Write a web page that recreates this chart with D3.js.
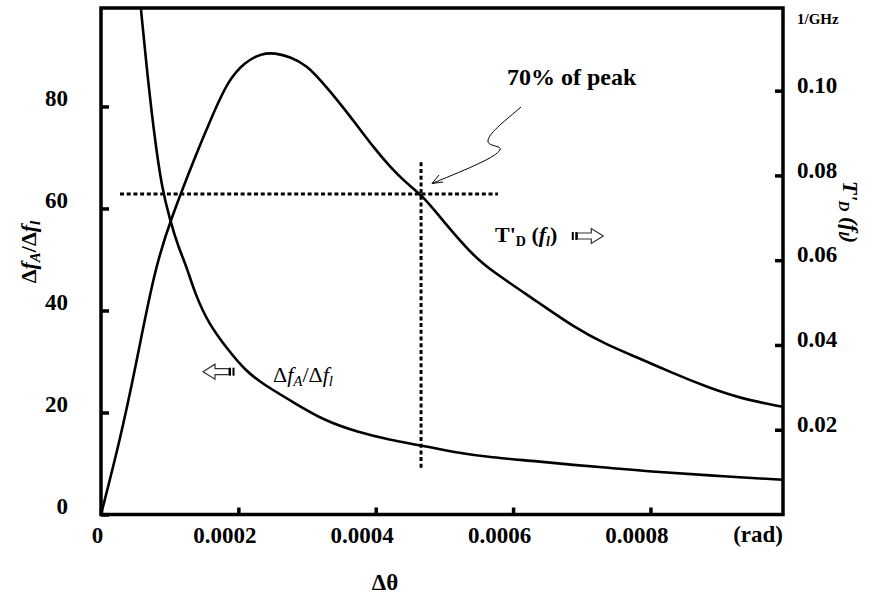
<!DOCTYPE html>
<html>
<head>
<meta charset="utf-8">
<script src="https://cdn.jsdelivr.net/npm/d3@7"></script>
<style>
  body { margin: 0; background: #fff; }
  svg text { font-family: "Liberation Serif", "Times New Roman", Times, serif; }
</style>
</head>
<body>
<script>
// Angle mismatch (rad) and the two curves
const thetaT = [0, 0.0000277, 0.0000495, 0.0000786, 0.0001029, 0.0001369, 0.0001612, 0.0001853,
  0.0002097, 0.000234, 0.0002533, 0.0002752, 0.0002995, 0.0003237, 0.000348, 0.0003723,
  0.0003965, 0.0004208, 0.0004451, 0.0004669, 0.0004936, 0.0005179, 0.0005421, 0.0005664,
  0.0006392, 0.0006877, 0.0007363, 0.0007848, 0.0008333, 0.0008819, 0.0009304, 0.0009926];
const tdValues = [0, 0.0176, 0.0341, 0.0584, 0.0702, 0.0844, 0.0938, 0.1025,
  0.1068, 0.1088, 0.1089, 0.108, 0.106, 0.1017, 0.097, 0.0919,
  0.0867, 0.082, 0.0781, 0.0754, 0.0702, 0.0655, 0.0612, 0.0577,
  0.0498, 0.0443, 0.04, 0.0368, 0.0333, 0.0301, 0.0274, 0.0254];

const thetaF = [0.0000565, 0.0000582, 0.0000689, 0.0000786, 0.0000884, 0.0001005, 0.0001125, 0.0001248,
  0.0001369, 0.0001562, 0.0001853, 0.0002097, 0.000234, 0.0002825, 0.0003237, 0.0003723,
  0.0004208, 0.0004645, 0.0005179, 0.0005664, 0.0006392, 0.0006877, 0.0007363, 0.0007993,
  0.0008819, 0.0009926];
const ratioValues = [102, 98.8, 84.5, 73.4, 64.2, 57.7, 52.5, 48.5,
  43.3, 37.5, 32.2, 28.3, 25.7, 21.8, 18.5, 16.2,
  14.6, 13.6, 12.1, 11.2, 10.4, 9.7, 9.2, 8.4,
  7.7, 6.8];

const xTicks = [0, 0.0002, 0.0004, 0.0006, 0.0008];
const leftTicks = [0, 20, 40, 60, 80];
const rightTicks = [0.02, 0.04, 0.06, 0.08, 0.10];

// 70% of peak guide lines
const guideT = 0.0756;            // right-axis level
const guideThetaRange = [0.0000277, 0.000578];
const guideTheta = 0.000466;
const guideTRange = [0.0105, 0.0831];

const width = 881, height = 604;
const plot = { left: 101, right: 783, top: 8, bottom: 514.5 };

const svg = d3.select("body").append("svg")
  .attr("width", width)
  .attr("height", height);

const x = d3.scaleLinear().domain([0, 0.000993]).range([plot.left, plot.right]);
const yL = d3.scaleLinear().domain([0, 99.3]).range([plot.bottom, plot.top]);
const yR = d3.scaleLinear().domain([0, 0.1195]).range([plot.bottom, plot.top]);

svg.append("clipPath").attr("id", "clip")
  .append("rect")
  .attr("x", plot.left).attr("y", plot.top)
  .attr("width", plot.right - plot.left).attr("height", plot.bottom - plot.top);

// axes
const xAxis = svg.append("g")
  .attr("transform", `translate(0,${plot.bottom})`)
  .call(d3.axisBottom(x).tickValues(xTicks).tickSize(-7).tickPadding(12)
    .tickFormat(d => d === 0 ? "0" : d3.format(".4f")(d)));
xAxis.selectAll("text").attr("dx", d => d === 0 ? -4 : -14);

const leftAxis = svg.append("g")
  .attr("transform", `translate(${plot.left},0)`)
  .call(d3.axisLeft(yL).tickValues(leftTicks).tickSize(-8).tickPadding(33));
leftAxis.selectAll("text").attr("dy", "-0.05em");

const rightAxis = svg.append("g")
  .attr("transform", `translate(${plot.right},0)`)
  .call(d3.axisRight(yR).tickValues(rightTicks).tickSize(-8).tickPadding(14)
    .tickFormat(d3.format(".2f")));
rightAxis.selectAll("text").attr("dy", "0.07em");

svg.selectAll("g").attr("font-family", null);
svg.selectAll(".domain").remove();
svg.selectAll(".tick line").attr("stroke", "#000").attr("stroke-width", 3.5);
svg.selectAll(".tick text")
  .attr("fill", "#000")
  .style("font-size", "23px")
  .style("font-weight", "bold");

// frame
svg.append("rect")
  .attr("x", plot.left).attr("y", plot.top)
  .attr("width", plot.right - plot.left).attr("height", plot.bottom - plot.top)
  .attr("fill", "none").attr("stroke", "#000").attr("stroke-width", 3.5);

// curves
const curves = svg.append("g").attr("clip-path", "url(#clip)");

const lineT = d3.line().x((d, i) => x(thetaT[i])).y(d => yR(d)).curve(d3.curveBasis);
const lineF = d3.line().x((d, i) => x(thetaF[i])).y(d => yL(d)).curve(d3.curveBasis);

curves.append("path").datum(tdValues)
  .attr("d", lineT).attr("fill", "none").attr("stroke", "#000").attr("stroke-width", 2.6);
curves.append("path").datum(ratioValues)
  .attr("d", lineF).attr("fill", "none").attr("stroke", "#000").attr("stroke-width", 2.6);

// dotted guides
svg.append("line")
  .attr("x1", x(guideThetaRange[0])).attr("x2", x(guideThetaRange[1]))
  .attr("y1", yR(guideT)).attr("y2", yR(guideT))
  .attr("stroke", "#000").attr("stroke-width", 3).attr("stroke-dasharray", "4,2.7");
svg.append("line")
  .attr("x1", x(guideTheta)).attr("x2", x(guideTheta))
  .attr("y1", yR(guideTRange[1])).attr("y2", yR(guideTRange[0]))
  .attr("stroke", "#000").attr("stroke-width", 3).attr("stroke-dasharray", "4,2.7");

// "70% of peak" annotation with squiggly arrow
svg.append("text")
  .attr("x", 507).attr("y", 85)
  .style("font-size", "24px").style("font-weight", "bold")
  .text("70% of peak");

svg.append("path")
  .attr("d", "M521,107 C506,120 490,132 488,140 C486,147 503,145 500,150 C496,157 470,168 433,183")
  .attr("fill", "none").attr("stroke", "#000").attr("stroke-width", 1);
svg.append("path")
  .attr("d", "M439,175 L432,183.5 L443,182")
  .attr("fill", "none").attr("stroke", "#000").attr("stroke-width", 1);

// block arrows
function blockArrow(tipX, cy, dir) {
  const s = dir; // -1 points left, 1 points right
  const hb = tipX - s * 12, sb = tipX - s * 26;
  const pts = [[tipX, cy], [hb, cy - 7.5], [hb, cy - 3], [sb, cy - 3], [sb, cy + 3], [hb, cy + 3], [hb, cy + 7.5]];
  svg.append("path")
    .attr("d", "M" + pts.map(p => p.join(",")).join("L") + "Z")
    .attr("fill", "#fff").attr("stroke", "#333").attr("stroke-width", 1.2);
  [0, 3.5].forEach(o => {
    const bx = sb - s * o;
    svg.append("rect")
      .attr("x", Math.min(bx, bx - s * 2)).attr("y", cy - 4)
      .attr("width", 2).attr("height", 8).attr("fill", "#000");
  });
}
blockArrow(203, 371.7, -1);
blockArrow(603.3, 236, 1);

// in-plot labels
const fLabel = svg.append("text").attr("x", 273).attr("y", 381.7).style("font-size", "22px");
fLabel.append("tspan").text("Δ");
fLabel.append("tspan").style("font-style", "italic").text("f");
fLabel.append("tspan").style("font-style", "italic").style("font-size", "15px").attr("dy", 4).text("A");
fLabel.append("tspan").attr("dy", -4).text("/Δ");
fLabel.append("tspan").style("font-style", "italic").text("f");
fLabel.append("tspan").style("font-style", "italic").style("font-size", "15px").attr("dy", 4).text("l");

const tLabel = svg.append("text").attr("x", 495).attr("y", 241.7)
  .style("font-size", "22px").style("font-weight", "bold");
tLabel.append("tspan").text("T'");
tLabel.append("tspan").style("font-size", "14px").attr("dy", 4).text("D");
tLabel.append("tspan").attr("dy", -4).text(" (");
tLabel.append("tspan").style("font-style", "italic").text("f");
tLabel.append("tspan").style("font-style", "italic").style("font-size", "14px").attr("dy", 4).text("l");
tLabel.append("tspan").attr("dy", -4).text(")");

// axis titles
svg.append("text")
  .attr("x", x.range()[1]).attr("y", 541.7)
  .attr("text-anchor", "end")
  .style("font-size", "23px").style("font-weight", "bold")
  .text("(rad)");

svg.append("text")
  .attr("x", 385).attr("y", 590)
  .attr("text-anchor", "middle")
  .style("font-size", "23px").style("font-weight", "bold")
  .text("Δθ");

svg.append("text")
  .attr("x", 797).attr("y", 24)
  .style("font-size", "15px").style("font-weight", "bold")
  .text("1/GHz");

const leftTitle = svg.append("text")
  .attr("transform", "translate(36,252) rotate(-90)")
  .attr("text-anchor", "middle")
  .style("font-size", "22px").style("font-weight", "bold");
leftTitle.append("tspan").text("Δ");
leftTitle.append("tspan").style("font-style", "italic").text("f");
leftTitle.append("tspan").style("font-style", "italic").style("font-size", "15px").attr("dy", 4).text("A");
leftTitle.append("tspan").attr("dy", -4).text("/Δ");
leftTitle.append("tspan").style("font-style", "italic").text("f");
leftTitle.append("tspan").style("font-style", "italic").style("font-size", "15px").attr("dy", 4).text("l");

const rightTitle = svg.append("text")
  .attr("transform", "translate(843,212) rotate(90)")
  .attr("text-anchor", "middle")
  .style("font-size", "22px").style("font-weight", "bold").style("font-style", "italic");
rightTitle.append("tspan").text("T'");
rightTitle.append("tspan").style("font-size", "15px").attr("dy", 4).text("D");
rightTitle.append("tspan").attr("dy", -4).text(" (");
rightTitle.append("tspan").text("f");
rightTitle.append("tspan").style("font-size", "15px").attr("dy", 4).text("l");
rightTitle.append("tspan").attr("dy", -4).text(")");
</script>
</body>
</html>
